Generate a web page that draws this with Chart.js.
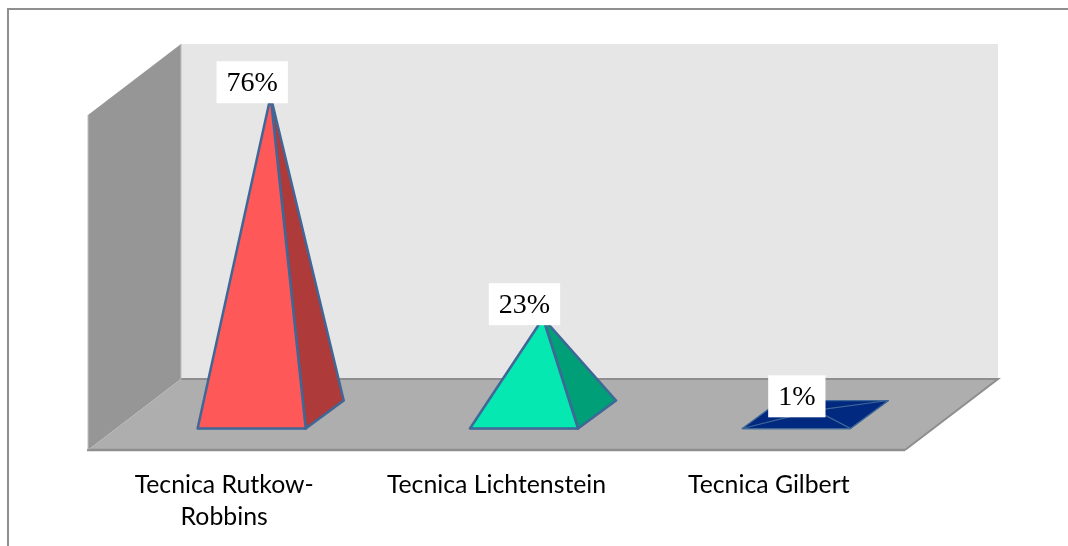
<!DOCTYPE html>
<html><head><meta charset="utf-8">
<style>html,body{margin:0;padding:0;background:#fff;overflow:hidden}
#wrap{position:absolute;left:0;top:0;width:1068px;height:546px;overflow:hidden}
#frame{position:absolute;left:7px;top:8px;width:1100px;height:600px;border:2px solid #8f8f8f;box-sizing:border-box;pointer-events:none}
canvas{display:block}
</style>
<script src="https://cdn.jsdelivr.net/npm/chart.js@4"></script>
</head><body>
<div id="wrap"><canvas id="c" width="1068" height="546"></canvas><div id="frame"></div></div>
<script>
const categories = [['Tecnica Rutkow-','Robbins'],'Tecnica Lichtenstein','Tecnica Gilbert'];
const values = [76,23,1];
const frontColors = ['#FF5858','#05E8B2','#00297F'];
const sideColors = ['#AE3A3A','#009F78','#00297F'];
const edgeColor = '#3F6797';
const depth = {x:93,y:71};

function poly(ctx,pts,fill,stroke,lw){
  ctx.beginPath();
  pts.forEach((p,i)=>i?ctx.lineTo(p[0],p[1]):ctx.moveTo(p[0],p[1]));
  ctx.closePath();
  if(fill){ctx.fillStyle=fill;ctx.fill();}
  if(stroke){ctx.strokeStyle=stroke;ctx.lineWidth=lw||2;ctx.lineJoin='round';ctx.stroke();}
}
const room = {
  id:'room',
  beforeDatasetsDraw(chart){
    const {ctx,chartArea:a}=chart;
    ctx.save();
    const dx=depth.x,dy=depth.y;
    poly(ctx,[[a.left+dx,a.top-dy],[a.right+dx,a.top-dy],[a.right+dx,a.bottom-dy],[a.left+dx,a.bottom-dy]],'#E6E6E6');
    poly(ctx,[[a.left,a.top],[a.left+dx,a.top-dy],[a.left+dx,a.bottom-dy],[a.left,a.bottom]],'#969696');
    poly(ctx,[[a.left,a.bottom],[a.left+dx,a.bottom-dy],[a.right+dx,a.bottom-dy],[a.right,a.bottom]],'#AEAEAE');
    ctx.strokeStyle='#8E8E8E';ctx.lineWidth=2.5;
    ctx.beginPath();
    ctx.moveTo(a.left-1,a.bottom);ctx.lineTo(a.right,a.bottom);ctx.stroke();
    ctx.lineWidth=2;
    ctx.beginPath();
    ctx.moveTo(a.right,a.bottom);ctx.lineTo(a.right+dx,a.bottom-dy);ctx.lineTo(a.left+dx,a.bottom-dy);
    ctx.stroke();
    ctx.strokeStyle='#BEBEBE';ctx.lineWidth=1;
    ctx.beginPath();ctx.moveTo(a.left+dx,a.top-dy);ctx.lineTo(a.left+dx,a.bottom-dy);
    ctx.moveTo(a.left,a.top);ctx.lineTo(a.left,a.bottom);ctx.stroke();
    ctx.restore();
  },
  afterDatasetsDraw(chart){
    const {ctx}=chart;
    const meta=chart.getDatasetMeta(0);
    ctx.save();
    const cdx=depth.x/2,cdy=depth.y/2,hx=19,hy=14;
    meta.data.forEach((el,i)=>{
      const w=el.width/2;
      const cx=el.x+cdx,cy=el.base-cdy;
      const apex=[el.x+cdx,el.y-cdy];
      const lw=(el.base-el.y)<20?1.25:2.5;
      const FL=[cx-w-hx,cy+hy],FR=[cx+w-hx,cy+hy],BR=[cx+w+hx,cy-hy],BL=[cx-w+hx,cy-hy];
      poly(ctx,[FL,BL,BR,FR],frontColors[i],edgeColor,1.25);
      poly(ctx,[FR,BR,apex],sideColors[i],edgeColor,lw);
      poly(ctx,[FL,FR,apex],frontColors[i],edgeColor,lw);
    });
    ctx.font='28px "Liberation Serif"';
    ctx.textAlign='center';ctx.textBaseline='middle';
    meta.data.forEach((el,i)=>{
      const t=values[i]+'%';
      const tw=ctx.measureText(t).width;
      const x=el.x+28,y=el.y-cdy-14;
      ctx.fillStyle='#fff';
      ctx.fillRect(x-tw/2-10,y-21,tw+20,42);
      ctx.fillStyle='#000';
      ctx.fillText(t,x,y+1);
    });
    ctx.restore();
  }
};
new Chart(document.getElementById('c'),{
  type:'bar',
  data:{labels:categories,datasets:[{data:values,backgroundColor:'rgba(0,0,0,0)',borderWidth:0,categoryPercentage:1,barPercentage:0.397}]},
  options:{
    responsive:false,animation:false,
    layout:{padding:{left:88,right:163,top:115,bottom:0}},
    plugins:{legend:{display:false},tooltip:{enabled:false}},
    scales:{
      y:{display:false,min:0,max:80},
      x:{
        afterFit(s){s.height=96;},
        grid:{display:false},
        border:{display:false},
        ticks:{maxRotation:0,autoSkip:false,padding:11,color:'#000',font:{family:'Lato',size:24.8,lineHeight:1.29}}
      }
    }
  },
  plugins:[room]
});
</script>
</body></html>
